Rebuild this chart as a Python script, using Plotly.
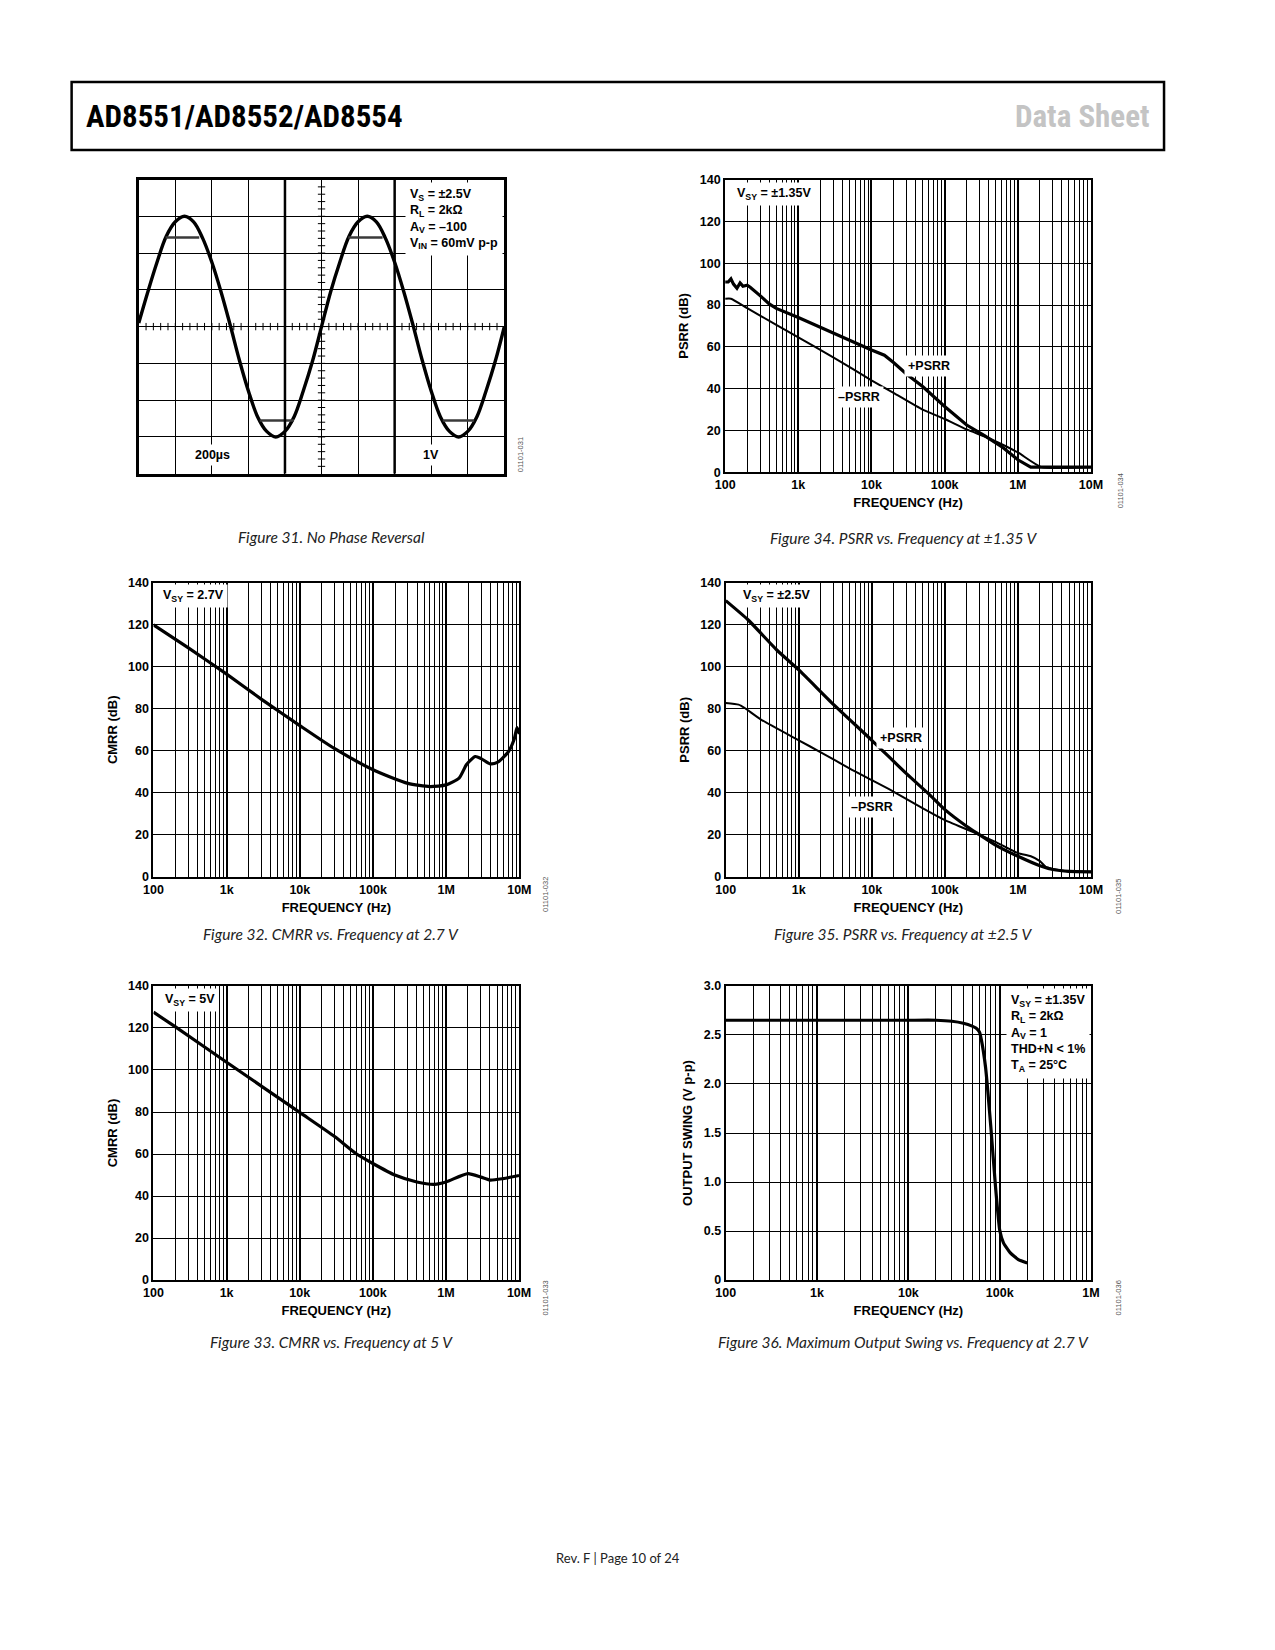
import plotly.graph_objects as go

W, H = 1275, 1650

# ---------------- data ----------------
# Figure 31: scope capture (time in us, output in V)
scope_t = [0, 50, 100, 150, 200, 250, 300, 350, 400, 450, 500, 550, 600, 650, 700,
           750, 800, 850, 900, 950, 1000, 1050, 1100, 1150, 1200, 1250, 1300, 1350,
           1400, 1450, 1500, 1550, 1600, 1650, 1700, 1750, 1800, 1850, 1900, 1950, 2000]
scope_v = [0.1, 0.95, 1.75, 2.45, 2.85, 3.0, 2.85, 2.4, 1.75, 0.95, 0.05, -0.9, -1.75,
           -2.45, -2.85, -3.0, -2.85, -2.45, -1.75, -0.95, 0.0, 0.95, 1.75, 2.45, 2.85,
           3.0, 2.85, 2.4, 1.75, 0.95, 0.05, -0.9, -1.75, -2.45, -2.85, -3.0, -2.85,
           -2.45, -1.75, -0.95, 0.0]
clip_start = [147, 662, 1146, 1663]
clip_end = [331, 849, 1334, 1835]
clip_level = [2.42, -2.55, 2.42, -2.55]

# Figure 32: CMRR vs frequency at 2.7 V
cmrr27_f = [100, 300, 1e3, 3e3, 1e4, 3e4, 1e5, 3e5, 6e5, 1e6, 1.5e6, 1.9e6, 2.5e6,
            3e6, 4e6, 5e6, 7e6, 8.5e6, 9.3e6, 1e7]
cmrr27_db = [120, 109, 96.5, 84.5, 72, 61, 51, 44.5, 43, 43.8, 47, 53.5, 57.3,
             56.3, 53.8, 54.5, 59.3, 65.5, 71, 68]

# Figure 33: CMRR vs frequency at 5 V
cmrr5_f = [100, 200, 1e3, 1e4, 3e4, 6e4, 1e5, 2e5, 4e5, 7e5, 1e6, 2e6, 3e6, 4e6, 6e6, 1e7]
cmrr5_db = [127.5, 120.5, 103.7, 79.8, 68.3, 60, 55.5, 50, 46.7, 45.6, 46.7, 50.7,
            49, 47.6, 48.3, 49.8]

# Figure 34: PSRR vs frequency at +/-1.35 V
pos135_f = [100, 110, 120, 130, 145, 160, 175, 200, 220, 250, 300, 400, 500, 1e3,
            3e3, 1e4, 1.5e4, 2e4, 3e4, 5e4, 1e5, 2e5, 3.5e5, 6e5, 1e6, 1.5e6, 1e7]
pos135_db = [91, 91, 92.5, 90, 88, 90.5, 89, 89.5, 88.5, 87, 84.5, 80.5, 78.4, 74,
             66.5, 58.5, 56, 52.5, 47, 41, 31.5, 22.6, 17.5, 12.3, 6, 2.5, 2.5]
neg135_f = [100, 120, 200, 500, 1e3, 3e3, 1e4, 2e4, 5e4, 1e5, 2e5, 4e5, 1e6, 2.1e6, 1e7]
neg135_db = [83, 83, 78.5, 70.5, 64.5, 55, 44, 38, 30, 25.5, 20.5, 16.3, 9.5, 2.5, 2.5]

# Figure 35: PSRR vs frequency at +/-2.5 V
pos25_f = [100, 200, 500, 1e3, 3e3, 1e4, 3e4, 6e4, 1e5, 2e5, 3e5, 5e5, 1e6, 2e6,
           3e6, 5e6, 1e7]
pos25_db = [131.5, 122.5, 108, 98.5, 82, 65, 49, 39.5, 32, 24, 20, 15, 9.8, 5.3,
            3.5, 2.6, 2.4]
neg25_f = [100, 150, 180, 300, 1e3, 2e3, 5e3, 1e4, 2e4, 5e4, 1e5, 3e5, 5e5, 1e6,
           1.5e6, 2e6, 2.4e6, 3e6, 5e6, 1e7]
neg25_db = [82.8, 82, 80.5, 75, 65, 59.3, 51.5, 46, 40.5, 32.6, 27, 20, 16.5, 11.3,
            9.8, 7.5, 4.8, 3.8, 2.6, 2.4]

# Figure 36: max output swing vs frequency at 2.7 V
swing_f = [100, 1e3, 1e4, 2e4, 3e4, 4e4, 5e4, 5.5e4, 6e4, 6.3e4, 7e4, 8e4, 9e4,
           1e5, 1.1e5, 1.3e5, 1.6e5, 2e5]
swing_v = [2.65, 2.65, 2.65, 2.65, 2.64, 2.62, 2.59, 2.57, 2.53, 2.45, 2.17, 1.56,
           0.95, 0.51, 0.38, 0.28, 0.21, 0.175]

freq_ticks = [100, 1e3, 1e4, 1e5, 1e6, 1e7]
freq_labels = ['100', '1k', '10k', '100k', '1M', '10M']
db_ticks = [0, 20, 40, 60, 80, 100, 120, 140]
swing_ticks = [0, 0.5, 1.0, 1.5, 2.0, 2.5, 3.0]
swing_labels = ['0', '0.5', '1.0', '1.5', '2.0', '2.5', '3.0']

# ---------------- helpers ----------------
FONT = 'Liberation Sans, Arial, sans-serif'
tick_font = dict(family=FONT, size=12.5, color='black', weight='bold')
title_font = dict(family=FONT, size=13, color='black', weight='bold')


def xdom(a, b):
    return [a / W, b / W]


def ydom(top, bottom):
    return [1 - bottom / H, 1 - top / H]


def px(x):
    return x / W


def py(y):
    return 1 - y / H


def log_xaxis(dom, anchor, lo, hi):
    minor_vals = [m * 10 ** d for d in range(lo, hi) for m in range(2, 10)]
    return dict(type='log', range=[lo, hi], domain=dom, anchor=anchor,
                tickmode='array', tickvals=freq_ticks[:hi - lo + 1],
                ticktext=freq_labels[:hi - lo + 1],
                showgrid=True, gridcolor='black', gridwidth=2,
                minor=dict(tickmode='array', tickvals=minor_vals, showgrid=True,
                           gridcolor='black', gridwidth=1, ticks=''),
                showline=True, linecolor='black', linewidth=2, mirror=True,
                ticks='', tickfont=tick_font, zeroline=False,
                title=dict(text='FREQUENCY (Hz)', standoff=7, font=title_font))


def lin_yaxis(dom, anchor, title, rng, vals, text=None):
    return dict(range=rng, domain=dom, anchor=anchor, tickmode='array', tickvals=vals,
                ticktext=text if text else [str(v) for v in vals],
                showgrid=True, gridcolor='black', gridwidth=1,
                showline=True, linecolor='black', linewidth=2, mirror=True,
                ticks='', tickfont=tick_font, zeroline=False,
                title=dict(text=title, standoff=8, font=title_font))


fig = go.Figure()

# Figure 31 traces
fig.add_trace(go.Scatter(x=scope_t, y=scope_v, mode='lines', xaxis='x', yaxis='y',
                         line=dict(color='black', width=3.4, shape='spline'),
                         showlegend=False))
clip_x, clip_y = [], []
for s, e, lv in zip(clip_start, clip_end, clip_level):
    clip_x += [s, e, None]
    clip_y += [lv, lv, None]
fig.add_trace(go.Scatter(x=clip_x, y=clip_y, mode='lines', xaxis='x', yaxis='y',
                         line=dict(color='#3a3a3a', width=2.5), showlegend=False))

# Figure 34
fig.add_trace(go.Scatter(x=neg135_f, y=neg135_db, mode='lines', xaxis='x2', yaxis='y2',
                         line=dict(color='black', width=2, shape='spline', smoothing=0.5),
                         showlegend=False))
fig.add_trace(go.Scatter(x=pos135_f, y=pos135_db, mode='lines', xaxis='x2', yaxis='y2',
                         line=dict(color='black', width=3.2), showlegend=False))
# Figure 32
fig.add_trace(go.Scatter(x=cmrr27_f, y=cmrr27_db, mode='lines', xaxis='x3', yaxis='y3',
                         line=dict(color='black', width=3.2, shape='spline', smoothing=0.6),
                         showlegend=False))
# Figure 35
fig.add_trace(go.Scatter(x=neg25_f, y=neg25_db, mode='lines', xaxis='x4', yaxis='y4',
                         line=dict(color='black', width=2, shape='spline', smoothing=0.5),
                         showlegend=False))
fig.add_trace(go.Scatter(x=pos25_f, y=pos25_db, mode='lines', xaxis='x4', yaxis='y4',
                         line=dict(color='black', width=3.2, shape='spline', smoothing=0.5),
                         showlegend=False))
# Figure 33
fig.add_trace(go.Scatter(x=cmrr5_f, y=cmrr5_db, mode='lines', xaxis='x5', yaxis='y5',
                         line=dict(color='black', width=3.2, shape='spline', smoothing=0.6),
                         showlegend=False))
# Figure 36
fig.add_trace(go.Scatter(x=swing_f, y=swing_v, mode='lines', xaxis='x6', yaxis='y6',
                         line=dict(color='black', width=3.2, shape='spline', smoothing=0.4),
                         showlegend=False))

# ---------------- axes ----------------
fig.update_layout(
    xaxis=dict(range=[0, 2000], domain=xdom(131, 503), anchor='y', dtick=200,
               showgrid=True, gridcolor='black', gridwidth=1, showticklabels=False,
               showline=True, linecolor='black', linewidth=2.5, mirror=True,
               zeroline=False, ticks=''),
    yaxis=dict(range=[-4, 4], domain=ydom(174, 470.7), anchor='x', dtick=1,
               showgrid=True, gridcolor='black', gridwidth=1, showticklabels=False,
               showline=True, linecolor='black', linewidth=2.5, mirror=True,
               zeroline=False, ticks=''),
    xaxis2=log_xaxis(xdom(727.7, 1100), 'y2', 2, 7),
    yaxis2=lin_yaxis(ydom(174, 469.3), 'x2', 'PSRR (dB)', [0, 140], db_ticks),
    xaxis3=log_xaxis(xdom(146, 518.3), 'y3', 2, 7),
    yaxis3=lin_yaxis(ydom(580.7, 877.3), 'x3', 'CMRR (dB)', [0, 140], db_ticks),
    xaxis4=log_xaxis(xdom(728.3, 1100), 'y4', 2, 7),
    yaxis4=lin_yaxis(ydom(580.7, 877.3), 'x4', 'PSRR (dB)', [0, 140], db_ticks),
    xaxis5=log_xaxis(xdom(146, 518), 'y5', 2, 7),
    yaxis5=lin_yaxis(ydom(987.3, 1284), 'x5', 'CMRR (dB)', [0, 140], db_ticks),
    xaxis6=log_xaxis(xdom(728.3, 1100), 'y6', 2, 6),
    yaxis6=lin_yaxis(ydom(987.3, 1284), 'x6', 'OUTPUT SWING (V p-p)', [0, 3],
                     swing_ticks, swing_labels),
)

# scope centre graticule ticks and heavier divisions
shapes = []
for k in range(1, 50):
    t = k * 40
    shapes.append(dict(type='line', xref='x', yref='y', x0=t, x1=t, y0=-0.1, y1=0.1,
                       line=dict(color='black', width=1)))
for k in range(1, 40):
    v = -4 + k * 0.2
    shapes.append(dict(type='line', xref='x', yref='y', x0=980, x1=1020, y0=v, y1=v,
                       line=dict(color='black', width=1)))
for t in (800, 1400):
    shapes.append(dict(type='line', xref='x', yref='y', x0=t, x1=t, y0=-4, y1=4,
                       line=dict(color='black', width=2.5)))
# header frame
shapes.append(dict(type='rect', xref='paper', yref='paper', x0=px(62.7), x1=px(1174.3),
                   y0=py(144.3), y1=py(75.7), line=dict(color='black', width=2.5)))
fig.update_layout(shapes=shapes)

# ---------------- text ----------------
ann = []
bold = dict(family=FONT, size=12.5, color='black', weight='bold')


def box_note(text, x, y, xanchor='left', yanchor='middle', font=bold, pad=3):
    ann.append(dict(text=text, x=px(x), y=py(y), xref='paper', yref='paper',
                    xanchor=xanchor, yanchor=yanchor, showarrow=False, align='left',
                    font=font, bgcolor='white', borderpad=pad))


box_note('V<sub>S</sub> = ±2.5V<br>R<sub>L</sub> = 2kΩ<br>A<sub>V</sub> = –100<br>'
         'V<sub>IN</sub> = 60mV p-p', 502, 176, xanchor='right', yanchor='top', pad=4)
box_note('200µs', 206, 452, xanchor='center')
box_note('1V', 428, 452, xanchor='center')

box_note('V<sub>SY</sub> = ±1.35V', 736, 189)
box_note('+PSRR', 935, 362, xanchor='center')
box_note('–PSRR', 864, 393, xanchor='center')

box_note('V<sub>SY</sub> = 2.7V', 152, 594)
box_note('V<sub>SY</sub> = ±2.5V', 742, 594)
box_note('+PSRR', 907, 737, xanchor='center')
box_note('–PSRR', 877, 807, xanchor='center')

box_note('V<sub>SY</sub> = 5V', 154, 1001)
box_note('V<sub>SY</sub> = ±1.35V<br>R<sub>L</sub> = 2kΩ<br>A<sub>V</sub> = 1<br>'
         'THD+N &lt; 1%<br>T<sub>A</sub> = 25°C', 1099, 989, xanchor='right',
         yanchor='top', pad=4)

# figure codes along the right side
for code, x, y in [('01101-031', 519, 452), ('01101-034', 1130, 488),
                   ('01101-032', 545, 895), ('01101-035', 1128, 897),
                   ('01101-033', 545, 1302), ('01101-036', 1128, 1302)]:
    ann.append(dict(text=code, x=px(x), y=py(y), xref='paper', yref='paper',
                    xanchor='center', yanchor='middle', showarrow=False, textangle=-90,
                    font=dict(family=FONT, size=7.5, color='#555555')))

# captions
cap_font = dict(family='Lato, Noto Sans, sans-serif', size=15.5, color='#222222',
                style='italic')
for cap, x, y in [('Figure 31. No Phase Reversal', 327, 535),
                  ('Figure 34. PSRR vs. Frequency at ±1.35 V', 909, 536),
                  ('Figure 32. CMRR vs. Frequency at 2.7 V', 327, 935),
                  ('Figure 35. PSRR vs. Frequency at ±2.5 V', 909, 935),
                  ('Figure 33. CMRR vs. Frequency at 5 V', 327, 1346),
                  ('Figure 36. Maximum Output Swing vs. Frequency at 2.7 V', 909, 1346)]:
    ann.append(dict(text=cap, x=px(x), y=py(y), xref='paper', yref='paper',
                    xanchor='center', yanchor='middle', showarrow=False, font=cap_font))

# header and footer
head_font = dict(family='Roboto Condensed, Liberation Sans Narrow, '
                        'DejaVu Sans Condensed, Liberation Sans, sans-serif',
                 size=31, color='black', weight='bold')
ann.append(dict(text='AD8551/AD8552/AD8554', x=px(75), y=py(110), xref='paper',
                yref='paper', xanchor='left', yanchor='middle', showarrow=False,
                font=head_font))
ann.append(dict(text='Data Sheet', x=px(1162), y=py(110), xref='paper', yref='paper',
                xanchor='right', yanchor='middle', showarrow=False,
                font=dict(head_font, color='#c4c4c4')))
ann.append(dict(text='Rev. F | Page 10 of 24', x=px(619), y=py(1564), xref='paper',
                yref='paper', xanchor='center', yanchor='middle', showarrow=False,
                font=dict(family='Lato, Noto Sans, sans-serif', size=13, color='#222222')))

fig.update_layout(annotations=ann, width=W, height=H,
                  margin=dict(l=0, r=0, t=0, b=0),
                  paper_bgcolor='white', plot_bgcolor='white')

# drop the default page margin / scrollbars so the figure sits at the top-left corner
fig.write_html('out.html', config={'displayModeBar': False},
               post_script="document.body.style.margin='0px';"
                           "document.documentElement.style.overflow='hidden';")
